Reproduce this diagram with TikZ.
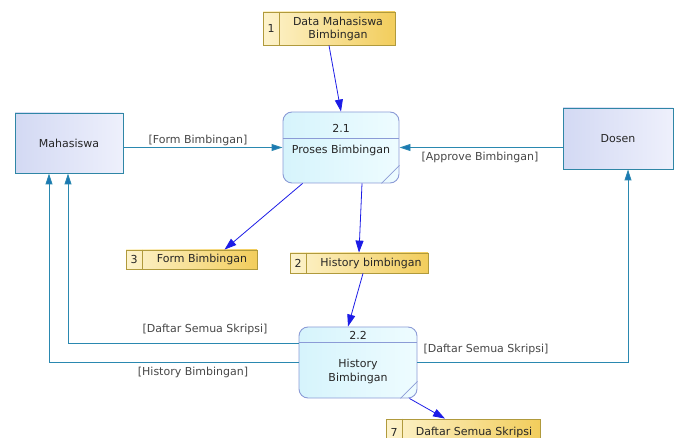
\documentclass[tikz,border=0pt]{standalone}
\usepackage{fontspec}
\setmainfont{DejaVu Sans}
\usetikzlibrary{arrows.meta}

\definecolor{entline}{HTML}{2F86A6}
\definecolor{entleft}{HTML}{D3D9F3}
\definecolor{entright}{HTML}{EEF0FC}
\definecolor{procline}{HTML}{8B9BD6}
\definecolor{procleft}{HTML}{D6F4FC}
\definecolor{procright}{HTML}{EEFCFF}
\definecolor{storeline}{HTML}{B09A3C}
\definecolor{storeleft}{HTML}{FDF3CC}
\definecolor{storeright}{HTML}{F2CD5C}
\definecolor{dataflow}{HTML}{1C1CE6}
\definecolor{entflow}{HTML}{2A88B0}
\definecolor{entflowtip}{HTML}{1B78B4}
\definecolor{txt}{HTML}{262626}

\tikzset{
  entity/.style={rectangle, draw=entline, line width=0.9pt,
    left color=entleft, right color=entright, text=txt},
  proc/.style={rectangle, rounded corners=9pt, draw=procline, line width=0.9pt,
    left color=procleft, right color=procright},
  procsep/.style={draw=procline, line width=0.8pt},
  store/.style={rectangle, draw=storeline, line width=0.8pt,
    left color=storeleft, right color=storeright},
  storesep/.style={draw=storeline, line width=0.8pt},
  txtnode/.style={text=txt, inner sep=1pt, align=center},
  flowlabel/.style={text=txt!85, inner sep=1pt},
  sflow/.style={draw=dataflow, line width=0.8pt,
    -{Triangle[length=12pt, width=8pt, fill=dataflow]}},
  eflow/.style={draw=entflow, line width=0.9pt,
    -{Triangle[length=11pt, width=7pt, fill=entflowtip]}},
}

\begin{document}
\begin{tikzpicture}[x=1pt, y=-1pt, font=\fontsize{11}{13}\selectfont]
\useasboundingbox (0,0) rectangle (675,438);

% external entities
\node[entity, minimum width=108pt, minimum height=60pt] (mhs) at (69,143) {Mahasiswa};
\node[entity, minimum width=110pt, minimum height=61pt] (dsn) at (618,138.5) {Dosen};

% process 2.1
\node[proc, minimum width=116pt, minimum height=71pt] (p21) at (341,147.5) {};
\draw[procsep] ([yshift=-27pt]p21.north west) -- ([yshift=-27pt]p21.north east);
\draw[procsep] ([xshift=-18pt]p21.south east) -- ([yshift=18pt]p21.south east);
\node[txtnode] (p21id) at ([yshift=-17pt]p21.north) {2.1};
\node[txtnode] (p21nm) at ([yshift=-39pt]p21.north) {Proses Bimbingan};

% process 2.2
\node[proc, minimum width=118pt, minimum height=71pt] (p22) at (358,362.5) {};
\draw[procsep] ([yshift=-16pt]p22.north west) -- ([yshift=-16pt]p22.north east);
\draw[procsep] ([xshift=-17pt]p22.south east) -- ([yshift=17pt]p22.south east);
\node[txtnode] (p22id) at ([yshift=-9pt]p22.north) {2.2};
\node[txtnode] (p22nm) at ([yshift=-45pt]p22.north) {History\\[1pt]Bimbingan};

% data stores
\node[store, minimum width=132pt, minimum height=33pt] (s1) at (329,28.5) {};
\draw[storesep] (s1.north west) ++(17pt,0) -- ([xshift=17pt]s1.south west);
\node[txtnode] (s1id) at ([xshift=8.5pt]s1.west) {1};
\node[txtnode] (s1nm) at (338,28.5) {Data Mahasiswa\\Bimbingan};

\node[store, minimum width=131pt, minimum height=19pt] (s3) at (191.5,259.5) {};
\draw[storesep] ([xshift=17pt]s3.north west) -- ([xshift=17pt]s3.south west);
\node[txtnode] (s3id) at ([xshift=8.5pt]s3.west) {3};
\node[txtnode] (s3nm) at (202,259.5) {Form Bimbingan};

\node[store, minimum width=138pt, minimum height=20pt] (s2) at (359,263) {};
\draw[storesep] ([xshift=17pt]s2.north west) -- ([xshift=17pt]s2.south west);
\node[txtnode] (s2id) at ([xshift=8.5pt]s2.west) {2};
\node[txtnode] (s2nm) at (371,263) {History bimbingan};

\node[store, minimum width=154pt, minimum height=26pt] (s7) at (463,432) {};
\draw[storesep] ([xshift=17pt]s7.north west) -- ([xshift=17pt]s7.south west);
\node[txtnode] (s7id) at ([xshift=8.5pt]s7.west) {7};
\node[txtnode] (s7nm) at (474,432) {Daftar Semua Skripsi};

% flows between processes and stores
\draw[sflow] (s1.south) -- (p21.north);
\draw[sflow] ([xshift=20pt]p21.south west) -- ([xshift=33pt]s3.north);
\draw[sflow] ([xshift=21pt]p21.south) -- (s2.north);
\draw[sflow] ([xshift=4pt]s2.south) -- ([xshift=-10pt]p22.north);
\draw[sflow] ([xshift=-8pt]p22.south east) -- ([xshift=-18pt]s7.north);

% flows with the external entities
\coordinate (la) at (68,343);
\coordinate (lb) at (49,362);
\coordinate (ra) at (628,362);
\draw[eflow] (mhs.east |- p21.west) -- (p21.west);
\draw[eflow] (dsn.west |- p21.east) -- (p21.east);
\draw[eflow] (p22.west |- la) -| (mhs.south -| la);
\draw[eflow] (p22.west |- lb) -| (mhs.south -| lb);
\draw[eflow] (p22.east |- ra) -| (dsn.south -| ra);

% flow labels
\node[flowlabel] (lform) at (198,140) {[Form Bimbingan]};
\node[flowlabel] (lappr) at (480,157) {[Approve Bimbingan]};
\node[flowlabel] (ldaf1) at (205,329) {[Daftar Semua Skripsi]};
\node[flowlabel] (lhist) at (193,372) {[History Bimbingan]};
\node[flowlabel] (ldaf2) at (486,349) {[Daftar Semua Skripsi]};
\end{tikzpicture}
\end{document}
